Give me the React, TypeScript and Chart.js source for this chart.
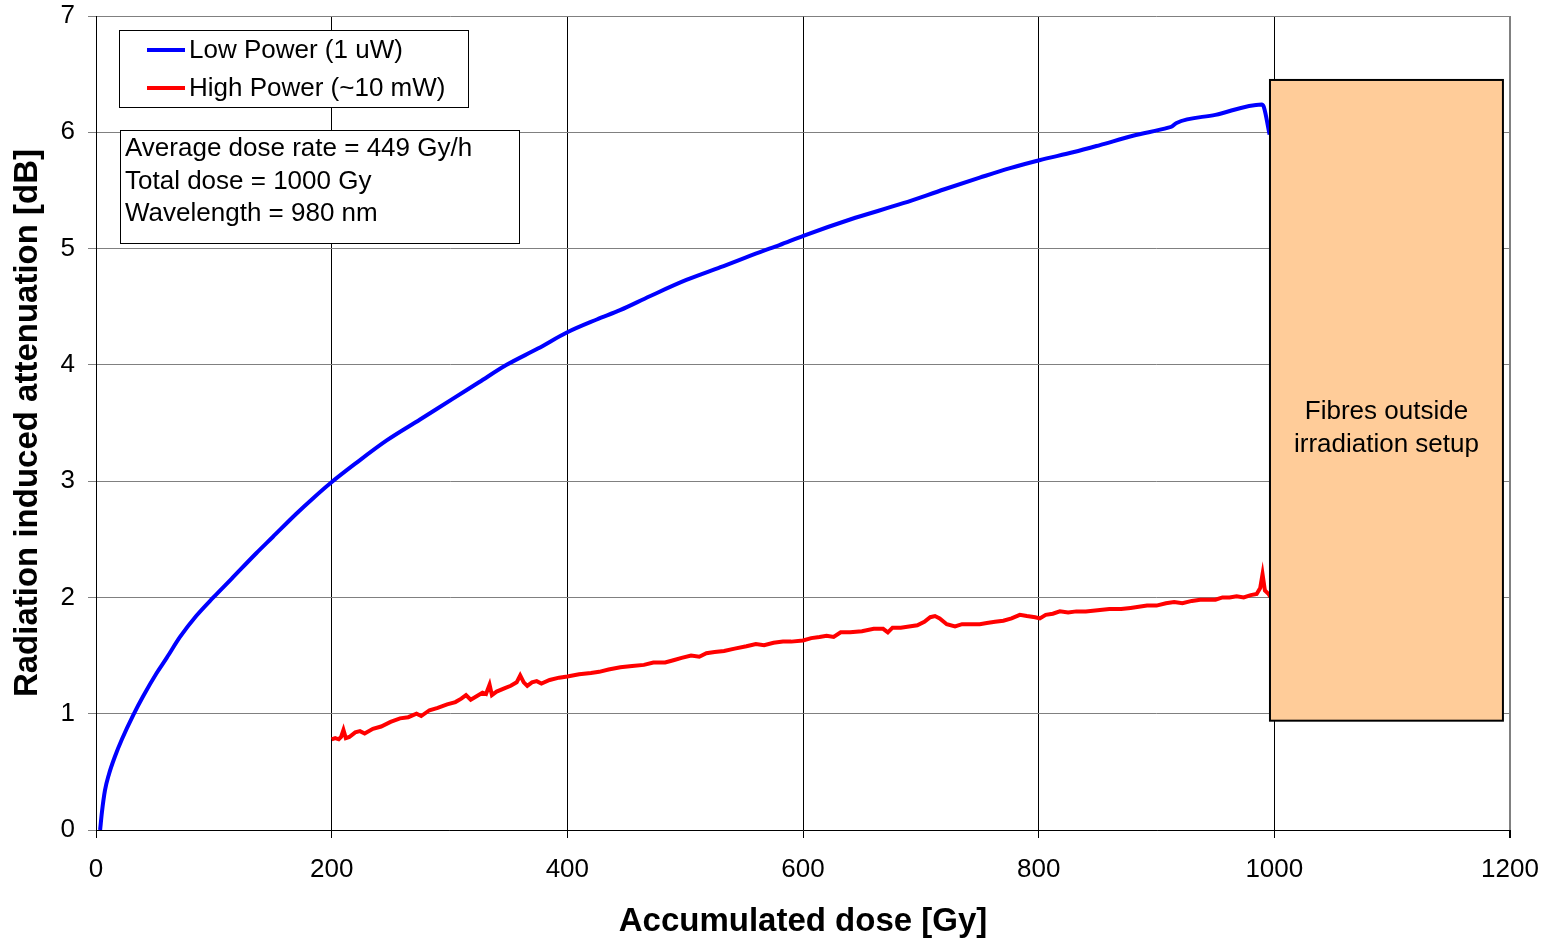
import React, { useEffect, useRef } from "react";
import { Chart, registerables } from "chart.js";

Chart.register(...registerables);

// Low Power (1 uW) series
const lowDose = [3.5, 5, 7.6, 11, 16, 22, 31.7, 40, 51.5, 60, 71.3, 85, 99.6, 115, 136, 150, 170, 185, 198.6, 220, 246.7, 275, 303, 325, 348.5, 375, 400, 425, 444.7, 470, 501, 530, 563.5, 580, 600.3, 640, 685, 720, 750, 775, 800.6, 830, 852, 880, 910, 913, 917, 950, 989.3, 991, 996];
const lowAtt = [0, 0.15, 0.34, 0.48, 0.63, 0.78, 0.99, 1.15, 1.35, 1.48, 1.66, 1.84, 2.0, 2.16, 2.38, 2.52, 2.72, 2.86, 2.98, 3.15, 3.35, 3.53, 3.71, 3.85, 4.0, 4.14, 4.28, 4.39, 4.47, 4.59, 4.73, 4.84, 4.97, 5.03, 5.11, 5.25, 5.39, 5.51, 5.61, 5.69, 5.76, 5.83, 5.89, 5.97, 6.04, 6.05, 6.08, 6.15, 6.24, 6.22, 5.98];

// High Power (~10 mW) series
const highDose = [200, 203, 206, 208, 210, 212, 215, 220, 224, 228, 235, 242, 250, 258, 265, 272, 276, 283, 290, 298, 305, 310, 314, 318, 323, 328, 331, 334, 336, 340, 347, 352, 357, 360, 363, 366, 370, 374, 378, 385, 393, 400, 410, 420, 427, 435, 445, 455, 465, 473, 483, 490, 497, 505, 512, 518, 525, 533, 542, 552, 560, 567, 575, 583, 590, 600, 607, 614, 620, 626, 632, 640, 650, 660, 668, 672, 676, 683, 690, 697, 703, 708, 712, 716, 722, 729, 735, 742, 750, 756, 763, 770, 777, 784, 790, 797, 801, 806, 812, 818, 825, 832, 840, 850, 860, 870, 878, 885, 892, 900, 908, 915, 922, 930, 937, 944, 950, 956, 962, 968, 974, 980, 985, 988, 990, 992, 995, 997];
const highAtt = [0.78, 0.79, 0.78, 0.8, 0.86, 0.79, 0.8, 0.84, 0.85, 0.83, 0.87, 0.89, 0.93, 0.96, 0.97, 1.0, 0.98, 1.03, 1.05, 1.08, 1.1, 1.13, 1.16, 1.12, 1.15, 1.18, 1.17, 1.25, 1.16, 1.19, 1.22, 1.24, 1.27, 1.33, 1.27, 1.24, 1.27, 1.28, 1.26, 1.29, 1.31, 1.32, 1.34, 1.35, 1.36, 1.38, 1.4, 1.41, 1.42, 1.44, 1.44, 1.46, 1.48, 1.5, 1.49, 1.52, 1.53, 1.54, 1.56, 1.58, 1.6, 1.59, 1.61, 1.62, 1.62, 1.63, 1.65, 1.66, 1.67, 1.66, 1.7, 1.7, 1.71, 1.73, 1.73, 1.7, 1.74, 1.74, 1.75, 1.76, 1.79, 1.83, 1.84, 1.82, 1.77, 1.75, 1.77, 1.77, 1.77, 1.78, 1.79, 1.8, 1.82, 1.85, 1.84, 1.83, 1.82, 1.85, 1.86, 1.88, 1.87, 1.88, 1.88, 1.89, 1.9, 1.9, 1.91, 1.92, 1.93, 1.93, 1.95, 1.96, 1.95, 1.97, 1.98, 1.98, 1.98, 2.0, 2.0, 2.01, 2.0, 2.02, 2.03, 2.08, 2.2, 2.06, 2.03, 2.0];

const seriesLabels = ["Low Power (1 uW)", "High Power (~10 mW)"];
const seriesColors = ["#0000FF", "#FF0000"];
const infoLines = ["Average dose rate = 449 Gy/h", "Total dose = 1000 Gy", "Wavelength = 980 nm"];
const boxLines = ["Fibres outside", "irradiation setup"];
// shaded region (data coords)
const boxX = [996.3, 1194];
const boxY = [0.94, 6.45];

const FONT = '"Liberation Sans", Arial, Helvetica, sans-serif';

const overlayPlugin = {
  id: "overlay",
  afterDatasetsDraw(chart: any) {
    const { ctx, scales } = chart;
    const x0 = scales.x.getPixelForValue(boxX[0]);
    const x1 = scales.x.getPixelForValue(boxX[1]);
    const y0 = scales.y.getPixelForValue(boxY[1]);
    const y1 = scales.y.getPixelForValue(boxY[0]);
    ctx.save();
    ctx.fillStyle = "#FFCC99";
    ctx.fillRect(x0, y0, x1 - x0, y1 - y0);
    ctx.strokeStyle = "#000";
    ctx.lineWidth = 2;
    ctx.strokeRect(x0, y0, x1 - x0, y1 - y0);
    ctx.fillStyle = "#000";
    ctx.font = `26px ${FONT}`;
    ctx.textAlign = "center";
    ctx.textBaseline = "middle";
    const cx = (x0 + x1) / 2;
    ctx.fillText(boxLines[0], cx, 412);
    ctx.fillText(boxLines[1], cx, 445);
    ctx.restore();
  },
  afterDraw(chart: any) {
    const { ctx, chartArea } = chart;
    const L = chartArea.left;
    const T = chartArea.top;
    ctx.save();
    // legend box
    ctx.fillStyle = "#fff";
    ctx.fillRect(L + 23.5, T + 14.5, 349, 77);
    ctx.strokeStyle = "#000";
    ctx.lineWidth = 1;
    ctx.strokeRect(L + 23.5, T + 14.5, 349, 77);
    ctx.font = `26px ${FONT}`;
    ctx.textAlign = "left";
    ctx.textBaseline = "middle";
    const rows = [T + 34, T + 72];
    for (let i = 0; i < 2; i++) {
      ctx.strokeStyle = seriesColors[i];
      ctx.lineWidth = 4;
      ctx.beginPath();
      ctx.moveTo(L + 51, rows[i]);
      ctx.lineTo(L + 89, rows[i]);
      ctx.stroke();
      ctx.fillStyle = "#000";
      ctx.fillText(seriesLabels[i], L + 93, rows[i] + 1);
    }
    // info box
    ctx.fillStyle = "#fff";
    ctx.fillRect(L + 24.5, T + 114.5, 399, 113);
    ctx.strokeStyle = "#000";
    ctx.lineWidth = 1;
    ctx.strokeRect(L + 24.5, T + 114.5, 399, 113);
    ctx.fillStyle = "#000";
    const iy = [T + 133, T + 166, T + 198];
    infoLines.forEach((t, i) => ctx.fillText(t, L + 29, iy[i]));
    ctx.restore();
  },
};

export default function App() {
  const ref = useRef<HTMLCanvasElement | null>(null);
  useEffect(() => {
    if (!ref.current) return;
    const chart = new Chart(ref.current, {
      type: "line",
      data: {
        datasets: [
          {
            label: seriesLabels[0],
            data: lowDose.map((x, i) => ({ x, y: lowAtt[i] })),
            borderColor: seriesColors[0],
            borderWidth: 4,
            pointRadius: 0,
            cubicInterpolationMode: "monotone",
            fill: false,
          },
          {
            label: seriesLabels[1],
            data: highDose.map((x, i) => ({ x, y: highAtt[i] })),
            borderColor: seriesColors[1],
            borderWidth: 4,
            pointRadius: 0,
            tension: 0,
            fill: false,
          },
        ],
      },
      options: {
        animation: false,
        responsive: true,
        maintainAspectRatio: false,
        layout: { padding: { left: 0, top: 16, right: 38, bottom: 0 } },
        plugins: { legend: { display: false }, tooltip: { enabled: false } },
        scales: {
          x: {
            type: "linear",
            min: 0,
            max: 1200,
            ticks: {
              stepSize: 200,
              color: "#000",
              font: { family: FONT, size: 26 },
              padding: 16,
              maxRotation: 0,
              callback: (v: any) => String(v),
            },
            grid: {
              color: (c: any) => (c.tick && c.tick.value === 1200 ? "#808080" : "#000"),
              lineWidth: (c: any) => (c.tick && c.tick.value === 1200 ? 2 : 1),
              tickLength: 8,
              tickColor: "#000",
            },
            border: { color: "#000", width: 1 },
            title: {
              display: true,
              text: "Accumulated dose [Gy]",
              color: "#000",
              font: { family: FONT, size: 33, weight: "bold" },
              padding: { top: 0, bottom: -4 },
            },
            afterFit: (s: any) => {
              s.height = 108;
              s.paddingLeft = 0;
              s.paddingRight = 0;
            },
          },
          y: {
            min: 0,
            max: 7,
            ticks: { stepSize: 1, color: "#000", font: { family: FONT, size: 26 }, padding: 13, callback: (v: any) => String(v) },
            grid: { color: "#808080", lineWidth: 1, tickLength: 8, tickColor: "#808080" },
            border: { color: "#000", width: 1 },
            title: {
              display: true,
              text: "Radiation induced attenuation [dB]",
              color: "#000",
              font: { family: FONT, size: 33, weight: "bold" },
              padding: { top: 8, bottom: 0 },
            },
            afterFit: (s: any) => {
              s.width = 96;
              s.paddingTop = 0;
              s.paddingBottom = 0;
            },
          },
        },
      },
      plugins: [overlayPlugin],
    });
    return () => chart.destroy();
  }, []);
  return (
    <div style={{ position: "absolute", left: 0, top: 0, width: 1548, height: 938, background: "#fff" }}>
      <canvas ref={ref} />
    </div>
  );
}
